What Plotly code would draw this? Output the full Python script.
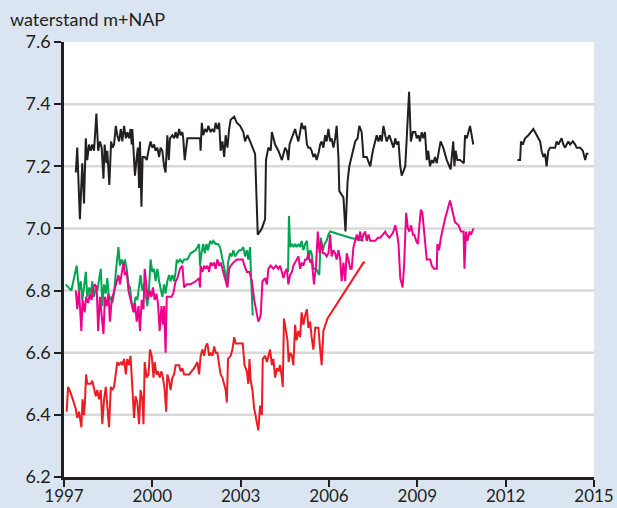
import plotly.graph_objects as go

# ---------------- data ----------------
black_x = [1997.40,1997.45,1997.54,1997.62,1997.68,1997.74,1997.79,1997.85,1997.91,1997.96,
           1998.02,1998.10,1998.16,1998.22,1998.28,1998.34,1998.38,1998.44,1998.47,1998.54,
           1998.60,1998.65,1998.70,1998.76,1998.81,1998.87,1998.93,1998.98,1999.04,1999.10,
           1999.15,1999.21,1999.26,1999.30,1999.32,1999.36,1999.41,1999.47,1999.51,1999.55,
           1999.58,1999.63,1999.67,1999.74,1999.81,1999.89,1999.94,2000.00,2000.06,2000.11,
           2000.17,2000.23,2000.28,2000.34,2000.40,2000.45,2000.51,2000.56,2000.60,2000.68,
           2000.74,2000.79,2000.85,2000.91,2000.96,2001.02,2001.05,2001.10,2001.19,2001.62,
           2001.64,2001.68,2001.73,2001.79,2001.85,2001.90,2001.98,2002.04,2002.10,2002.15,
           2002.21,2002.27,2002.32,2002.38,2002.44,2002.49,2002.55,2002.61,2002.66,2002.78,
           2002.87,2002.98,2003.09,2003.15,2003.23,2003.32,2003.43,2003.49,2003.58,2003.72,
           2003.83,2003.86,2003.94,2004.02,2004.06,2004.17,2004.28,2004.40,2004.51,2004.57,
           2004.62,2004.66,2004.73,2004.85,2004.90,2004.96,2005.02,2005.07,2005.13,2005.19,
           2005.25,2005.30,2005.36,2005.41,2005.47,2005.53,2005.58,2005.64,2005.70,2005.75,
           2005.81,2005.87,2005.92,2005.98,2006.04,2006.09,2006.15,2006.21,2006.26,2006.32,
           2006.35,2006.49,2006.56,2006.63,2006.69,2006.81,2006.89,2006.97,2007.03,2007.11,
           2007.17,2007.28,2007.40,2007.49,2007.57,2007.62,2007.68,2007.74,2007.79,2007.85,
           2007.91,2007.96,2008.05,2008.13,2008.19,2008.25,2008.30,2008.36,2008.42,2008.47,
           2008.59,2008.64,2008.72,2008.78,2008.85,2008.93,2008.98,2009.04,2009.09,2009.15,
           2009.20,2009.26,2009.32,2009.37,2009.43,2009.49,2009.54,2009.60,2009.66,2009.79,
           2009.88,2010.00,2010.13,2010.22,2010.26,2010.30,2010.36,2010.45,2010.58,2010.62,
           2010.68,2010.79,2010.84,2010.90,2011.60,
           2012.40,2012.49,2012.52,2012.58,2012.66,2012.77,2012.94,2013.05,2013.17,2013.22,
           2013.28,2013.34,2013.39,2013.45,2013.51,2013.68,2013.73,2013.79,2013.90,2013.96,
           2014.02,2014.07,2014.13,2014.19,2014.28,2014.36,2014.41,2014.53,2014.62,2014.70,
           2014.75,2014.81]
black_y = [7.18,7.26,7.03,7.21,7.08,7.29,7.22,7.27,7.25,7.27,
           7.25,7.37,7.25,7.28,7.26,7.16,7.27,7.21,7.25,7.14,
           7.28,7.26,7.27,7.33,7.30,7.28,7.32,7.28,7.33,7.29,
           7.31,7.29,7.32,7.27,7.32,7.24,7.17,7.23,7.26,7.13,
           7.28,7.07,7.23,7.23,7.22,7.26,7.28,7.26,7.27,7.25,
           7.26,7.23,7.26,7.25,7.20,7.18,7.30,7.22,7.29,7.30,
           7.29,7.31,7.29,7.32,7.30,7.31,7.29,7.22,7.29,7.29,
           7.25,7.34,7.30,7.32,7.31,7.33,7.31,7.32,7.31,7.34,
           7.32,7.34,7.25,7.28,7.23,7.30,7.26,7.32,7.35,7.36,
           7.34,7.33,7.31,7.28,7.30,7.28,7.25,7.24,6.98,7.00,
           7.03,7.22,7.26,7.25,7.31,7.27,7.25,7.22,7.26,7.25,
           7.22,7.27,7.29,7.32,7.30,7.28,7.31,7.34,7.32,7.33,
           7.27,7.26,7.26,7.25,7.23,7.24,7.22,7.24,7.27,7.28,
           7.26,7.30,7.28,7.32,7.28,7.29,7.26,7.29,7.33,7.23,
           7.12,7.10,6.99,7.15,7.20,7.25,7.28,7.29,7.33,7.31,
           7.23,7.23,7.20,7.25,7.28,7.30,7.28,7.30,7.28,7.33,
           7.30,7.28,7.30,7.28,7.26,7.29,7.27,7.28,7.20,7.17,
           7.20,7.29,7.44,7.28,7.31,7.31,7.29,7.30,7.28,7.31,
           7.29,7.31,7.22,7.25,7.20,7.22,7.21,7.23,7.21,7.28,
           7.26,7.22,7.19,7.28,7.20,7.25,7.22,7.22,7.21,7.30,
           7.29,7.33,7.30,7.27,None,
           7.22,7.22,7.28,7.27,7.29,7.30,7.32,7.30,7.28,7.25,
           7.23,7.24,7.20,7.25,7.26,7.26,7.28,7.27,7.29,7.27,
           7.26,7.27,7.28,7.27,7.28,7.27,7.26,7.26,7.25,7.22,
           7.24,7.24]

green_x = [1997.06,1997.25,1997.43,1997.51,1997.57,1997.62,1997.68,1997.74,1997.79,1997.85,
           1997.91,1997.96,1998.02,1998.08,1998.13,1998.19,1998.25,1998.30,1998.36,1998.42,
           1998.47,1998.53,1998.59,1998.64,1998.70,1998.76,1998.81,1998.85,1998.90,1998.96,
           1999.02,1999.07,1999.13,1999.19,1999.24,1999.30,1999.38,1999.43,1999.49,1999.55,
           1999.60,1999.66,1999.72,1999.77,1999.83,1999.89,1999.94,2000.00,2000.06,2000.11,
           2000.17,2000.23,2000.28,2000.34,2000.40,2000.45,2000.51,2000.57,2000.62,2000.68,
           2000.74,2000.79,2000.83,2000.87,2000.94,2001.02,2001.08,2001.19,2001.30,2001.47,
           2001.59,2001.62,2001.67,2001.73,2001.78,2001.84,2001.89,2001.96,2002.02,2002.07,
           2002.15,2002.23,2002.30,2002.38,2002.46,2002.53,2002.57,2002.64,2002.70,2002.75,
           2002.81,2002.89,2002.95,2003.02,2003.09,2003.15,2003.21,2003.26,2003.32,2003.35,
           2003.41,2004.00,
           2004.61,2004.64,2004.68,2004.74,2004.79,2004.85,2004.90,2004.96,2005.02,2005.07,
           2005.13,2005.19,2005.25,2005.30,2005.36,2005.41,2005.47,2005.56,2005.67,2005.72,
           2005.79,2005.85,2005.92,2005.98,2006.04,2006.72,2007.17]
green_y = [6.82,6.80,6.88,6.80,6.83,6.77,6.81,6.86,6.78,6.81,
           6.79,6.83,6.78,6.81,6.80,6.83,6.87,6.75,6.82,6.79,
           6.84,6.77,6.78,6.76,6.79,6.86,6.90,6.94,6.88,6.90,
           6.88,6.90,6.87,6.82,6.81,6.76,6.75,6.78,6.77,6.81,
           6.85,6.80,6.82,6.79,6.75,6.81,6.90,6.86,6.87,6.83,
           6.87,6.83,6.81,6.78,6.82,6.79,6.83,6.85,6.83,6.85,
           6.83,6.86,6.90,6.89,6.90,6.89,6.90,6.90,6.92,6.93,
           6.95,6.88,6.92,6.95,6.92,6.95,6.93,6.96,6.95,6.96,
           6.95,6.95,6.94,6.90,6.86,6.83,6.89,6.92,6.91,6.93,
           6.91,6.92,6.93,6.93,6.94,6.91,6.93,6.90,6.94,6.85,
           6.72,None,
           6.86,7.04,6.94,6.95,6.94,6.95,6.94,6.95,6.94,6.96,
           6.93,6.95,6.96,6.90,6.93,6.92,6.87,6.87,6.85,6.97,
           6.93,6.95,6.96,6.98,6.99,6.97,6.96]

magenta_x = [1997.40,1997.45,1997.51,1997.59,1997.63,1997.70,1997.75,1997.82,1997.88,1997.94,
             1998.00,1998.05,1998.11,1998.16,1998.22,1998.27,1998.34,1998.39,1998.45,1998.51,
             1998.56,1998.62,1998.68,1998.73,1998.79,1998.85,1998.90,1998.96,1999.02,1999.07,
             1999.13,1999.19,1999.24,1999.30,1999.36,1999.41,1999.47,1999.53,1999.58,1999.64,
             1999.70,1999.74,1999.80,1999.85,1999.91,1999.97,2000.02,2000.08,2000.14,2000.19,
             2000.25,2000.31,2000.36,2000.40,2000.45,2000.49,2000.57,2000.65,2000.71,2000.79,
             2000.85,2000.94,2001.02,2001.08,2001.17,2001.30,2001.47,2001.59,2001.62,2001.64,
             2001.70,2001.76,2001.81,2001.87,2001.93,2001.98,2002.04,2002.10,2002.15,2002.21,
             2002.27,2002.32,2002.38,2002.44,2002.49,2002.55,2002.61,2002.66,2002.75,2002.87,
             2002.98,2003.07,2003.13,2003.21,2003.30,2003.38,2003.46,2003.55,2003.60,2003.68,
             2003.74,2003.83,2003.89,2003.94,2004.02,2004.11,2004.20,2004.28,2004.34,2004.40,
             2004.45,2004.51,2004.57,2004.62,2004.68,2004.74,2004.79,2004.85,2004.90,2004.96,
             2005.02,2005.07,2005.13,2005.19,2005.25,2005.30,2005.36,2005.41,2005.49,2005.56,
             2005.62,2005.68,2005.73,2005.79,2005.85,2005.92,2005.98,2006.04,2006.09,2006.15,
             2006.21,2006.26,2006.32,2006.38,2006.43,2006.49,2006.55,2006.60,2006.66,2006.72,
             2006.77,2006.83,2006.89,2006.94,2007.00,2007.06,2007.11,2007.17,2007.23,2007.28,
             2007.34,2007.40,2007.49,2007.57,2007.66,2007.74,2007.83,2007.91,2007.96,2008.05,
             2008.13,2008.19,2008.25,2008.30,2008.36,2008.42,2008.50,2008.55,2008.62,2008.68,
             2008.73,2008.79,2008.85,2008.90,2008.96,2009.02,2009.07,2009.12,2009.17,2009.23,
             2009.29,2009.32,2009.44,2009.49,2009.57,2009.66,2009.68,2009.74,2009.80,2009.94,
             2010.11,2010.20,2010.28,2010.40,2010.48,2010.57,2010.60,2010.65,2010.70,2010.77,
             2010.82,2010.91]
magenta_y = [6.80,6.74,6.80,6.67,6.77,6.73,6.78,6.76,6.79,6.77,
             6.81,6.82,6.81,6.67,6.78,6.73,6.66,6.78,6.75,6.79,
             6.70,6.77,6.79,6.81,6.83,6.85,6.82,6.86,6.89,6.85,
             6.86,6.80,6.78,6.76,6.73,6.76,6.70,6.75,6.67,6.77,
             6.74,6.87,6.81,6.77,6.80,6.78,6.81,6.77,6.79,6.76,
             6.67,6.75,6.69,6.75,6.60,6.78,6.78,6.78,6.79,6.83,
             6.84,6.87,6.88,6.81,6.82,6.82,6.83,6.84,6.81,6.88,
             6.86,6.88,6.87,6.88,6.86,6.89,6.88,6.89,6.87,6.90,
             6.88,6.89,6.87,6.85,6.83,6.81,6.87,6.88,6.89,6.90,
             6.90,6.90,6.88,6.86,6.86,6.83,6.77,6.72,6.70,6.72,
             6.83,6.84,6.82,6.87,6.88,6.87,6.88,6.87,6.88,6.86,
             6.84,6.86,6.87,6.82,6.85,6.86,6.88,6.89,6.90,6.91,
             6.87,6.89,6.88,6.90,6.90,6.92,6.89,6.90,6.82,6.88,
             6.99,6.92,6.96,6.92,6.92,6.91,6.92,6.98,6.91,6.93,
             6.92,6.90,6.93,6.90,6.83,6.89,6.83,6.92,6.90,6.87,
             6.87,6.94,6.96,6.98,6.96,6.99,6.96,6.98,6.99,6.96,
             6.98,6.96,6.96,6.96,6.97,6.97,6.98,6.99,6.98,6.97,
             6.98,6.99,7.01,6.99,6.95,6.84,6.81,6.88,7.05,7.00,
             6.99,7.01,6.98,6.98,6.96,6.95,7.01,7.06,7.05,6.99,
             6.95,6.90,6.90,6.88,6.87,6.87,6.95,6.93,6.97,7.03,
             7.09,7.05,7.02,7.01,6.99,6.99,6.87,6.99,6.96,6.99,
             6.98,7.00]

red_x = [1997.09,1997.14,1997.23,1997.32,1997.40,1997.45,1997.51,1997.59,1997.63,1997.68,
         1997.71,1997.75,1997.79,1997.85,1997.91,1997.96,1998.02,1998.08,1998.13,1998.19,
         1998.25,1998.30,1998.36,1998.42,1998.47,1998.53,1998.59,1998.64,1998.70,1998.76,
         1998.81,1998.87,1998.93,1998.98,1999.04,1999.10,1999.15,1999.21,1999.26,1999.32,
         1999.38,1999.43,1999.49,1999.55,1999.60,1999.66,1999.70,1999.74,1999.81,1999.87,
         1999.92,1999.98,2000.04,2000.08,2000.14,2000.19,2000.25,2000.31,2000.36,2000.42,
         2000.47,2000.51,2000.57,2000.62,2000.68,2000.74,2000.79,2000.85,2000.91,2000.96,
         2001.02,2001.08,2001.25,2001.42,2001.53,2001.59,2001.64,2001.70,2001.76,2001.81,
         2001.87,2001.93,2001.98,2002.04,2002.10,2002.15,2002.21,2002.27,2002.32,2002.38,
         2002.44,2002.49,2002.53,2002.57,2002.66,2002.72,2002.78,2002.83,2002.95,2003.07,
         2003.13,2003.21,2003.26,2003.30,2003.34,2003.40,2003.46,2003.55,2003.60,2003.66,
         2003.72,2003.75,2003.83,2003.89,2003.94,2004.00,2004.06,2004.11,2004.17,2004.23,
         2004.28,2004.34,2004.40,2004.43,2004.47,2004.54,2004.59,2004.63,2004.68,2004.74,
         2004.79,2004.85,2004.90,2004.96,2005.02,2005.07,2005.13,2005.19,2005.25,2005.30,
         2005.36,2005.41,2005.47,2005.53,2005.64,2005.70,2005.75,2005.81,2005.87,2005.95,
         2007.17,2007.23]
red_y = [6.41,6.49,6.47,6.44,6.42,6.39,6.41,6.36,6.45,6.40,
         6.44,6.53,6.50,6.50,6.50,6.51,6.48,6.46,6.48,6.45,
         6.48,6.37,6.45,6.49,6.43,6.36,6.49,6.48,6.49,6.54,
         6.57,6.56,6.57,6.56,6.58,6.53,6.58,6.56,6.59,6.49,
         6.39,6.46,6.44,6.37,6.48,6.45,6.37,6.57,6.52,6.53,
         6.61,6.59,6.52,6.57,6.53,6.54,6.52,6.54,6.52,6.48,
         6.41,6.53,6.51,6.48,6.52,6.53,6.56,6.56,6.56,6.54,
         6.55,6.53,6.53,6.55,6.57,6.53,6.59,6.61,6.59,6.62,
         6.63,6.59,6.60,6.59,6.62,6.60,6.60,6.56,6.53,6.52,
         6.50,6.48,6.44,6.58,6.59,6.61,6.65,6.63,6.63,6.63,
         6.56,6.54,6.50,6.58,6.51,6.48,6.42,6.38,6.35,6.43,
         6.40,6.58,6.59,6.57,6.59,6.61,6.56,6.58,6.52,6.55,
         6.54,6.56,6.52,6.49,6.71,6.67,6.64,6.57,6.60,6.59,
         6.56,6.69,6.64,6.67,6.65,6.73,6.69,6.72,6.74,6.68,
         6.70,6.65,6.61,6.68,6.68,6.61,6.56,6.67,6.69,6.71,
         6.89,6.89]

series_names = ["zwart", "groen", "magenta", "rood"]
series_colors = ["#231f20", "#00a551", "#ec008c", "#ed1c24"]

y_ticks = [6.2, 6.4, 6.6, 6.8, 7.0, 7.2, 7.4, 7.6]
x_ticks = [1997, 2000, 2003, 2006, 2009, 2012, 2015]
title_text = "waterstand m+NAP"

# ---------------- figure ----------------
fig = go.Figure()
for name, xs, ys, col in zip(series_names,
                             [black_x, green_x, magenta_x, red_x],
                             [black_y, green_y, magenta_y, red_y],
                             series_colors):
    fig.add_trace(go.Scatter(x=xs, y=ys, mode="lines", name=name,
                             line=dict(color=col, width=2),
                             connectgaps=False))

# interior gridlines (none drawn at the top / bottom edge)
for v in y_ticks[1:-1]:
    fig.add_shape(type="line", xref="paper", x0=0, x1=1, yref="y", y0=v, y1=v,
                  line=dict(color="#d9d9d9", width=2.5), layer="below")

axis_col = "#231f20"
bg_col = "#dbe5f1"
fig.update_layout(
    width=617, height=508,
    paper_bgcolor=bg_col, plot_bgcolor="#ffffff",
    margin=dict(l=64, r=23, t=42, b=31),
    showlegend=False,
    font=dict(family="Lato, sans-serif", size=18, color=axis_col),
    title=dict(text=title_text, xref="container", yref="container",
               x=10 / 617, y=1 - 20 / 508, xanchor="left", yanchor="middle",
               font=dict(size=18, color=axis_col)),
    xaxis=dict(range=[1997, 2015], tickvals=x_ticks, ticktext=[str(t) for t in x_ticks],
               showgrid=False, zeroline=False, showline=True, linecolor=axis_col,
               linewidth=2.5, ticks="outside", ticklen=7, tickwidth=2, tickcolor=axis_col,
               tickfont=dict(size=17), ticklabelstandoff=-5, automargin=False),
    yaxis=dict(range=[6.2, 7.6], tickvals=y_ticks, ticktext=[f"{t:.1f}" for t in y_ticks],
               showgrid=False, zeroline=False, showline=True, linecolor=axis_col,
               linewidth=2.5, ticks="outside", ticklen=7, tickwidth=2, tickcolor=axis_col,
               tickfont=dict(size=18), automargin=False),
)

fig.write_html("out.html",
               config={"displayModeBar": False},
               post_script="document.body.style.margin='0';"
                           "document.body.style.background='" + bg_col + "';")
